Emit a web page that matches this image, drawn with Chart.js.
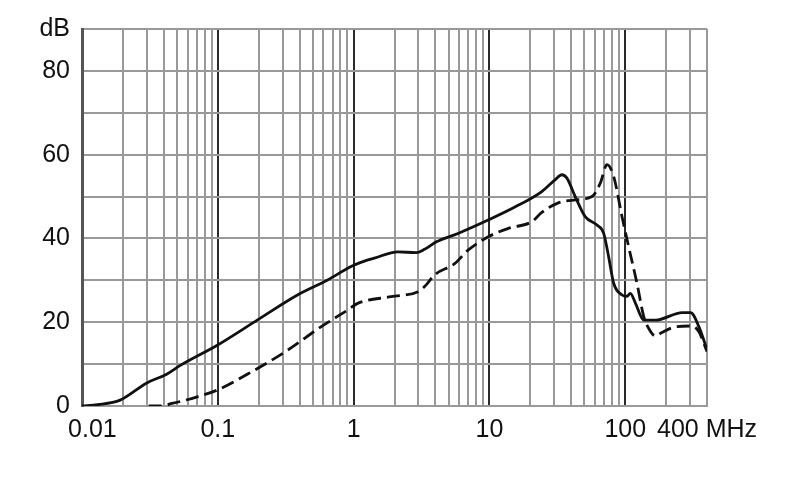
<!DOCTYPE html>
<html>
<head>
<meta charset="utf-8">
<script src="https://cdn.jsdelivr.net/npm/chart.js@4.4.1/dist/chart.umd.min.js"></script>
<style>
html,body{margin:0;padding:0;background:#fff;}
#wrap{width:790px;height:499px;}
</style>
</head>
<body>
<div id="wrap"><canvas id="c" width="790" height="499"></canvas></div>
<script>
// Frequencies in MHz and levels in dB
const solidF  = [0.01, 0.013, 0.0191, 0.030, 0.042, 0.053, 0.099, 0.195, 0.386, 0.644, 0.957, 1.13, 1.42, 2.12, 2.89, 3.33, 4.07, 5.87, 9.79, 15.4, 24.3, 30.4, 34.1, 37.2, 42.8, 50.7, 61.9, 69.4, 75.5, 82.2, 94.7, 103, 109, 119, 137, 167, 263, 303, 349, 400];
const solidDb = [0, 0.3, 1.4, 5.5, 7.6, 9.7, 14.5, 20.5, 26.5, 30.1, 33.3, 34.3, 35.3, 36.8, 36.6, 37.4, 39.2, 41.2, 44.4, 47.5, 51.2, 54, 55.2, 54.4, 50, 45.2, 43.2, 41.2, 35.6, 29.3, 26.5, 26.2, 26.9, 24.5, 20.5, 20.5, 22.3, 22.3, 18.9, 13.5];

const dashF  = [0.031, 0.037, 0.046, 0.0705, 0.099, 0.185, 0.326, 0.574, 0.904, 1.07, 1.89, 2.98, 3.33, 3.95, 5.55, 6.96, 9.8, 13.8, 20.5, 24.3, 32.2, 42.8, 56.9, 65.5, 73.4, 82.2, 94.7, 106, 122, 137, 149, 167, 181, 234, 311, 349, 400];
const dashDb = [0, 0, 0.6, 2.2, 3.8, 8.5, 13.3, 18.9, 22.9, 24.5, 26.1, 27.3, 28.5, 31.3, 34, 37.2, 40.4, 42.4, 44, 46.2, 48.5, 49.2, 50, 53.2, 57.6, 54.8, 45.2, 38, 29.3, 21.3, 18.5, 16.7, 17.3, 18.9, 19.1, 17.7, 13];

// Grid / tick positions
const xGrid = [0.01,0.02,0.03,0.04,0.05,0.06,0.07,0.08,0.09,
               0.1,0.2,0.3,0.4,0.5,0.6,0.7,0.8,0.9,
               1,2,3,4,5,6,7,8,9,
               10,20,30,40,50,60,70,80,90,
               100,200,300,400];
const xDecades = [0.1, 1, 10, 100];
const xTickValues = [0.01, 0.1, 1, 10, 100, 400];
const xTickLabels = ['   0.01', '0.1', '1', '10', '100', '400 MHz'];

const yTickValues = [0, 20, 40, 60, 80, 90];
const yTickLabels = ['0', '20', '40', '60', '80', 'dB'];

const toXY = (fs, ds) => fs.map((f, i) => ({x: f, y: ds[i]}));

const near = (a, b) => Math.abs(a - b) < 1e-9 * Math.max(1, Math.abs(b));

new Chart(document.getElementById('c'), {
  type: 'line',
  data: {
    datasets: [
      {
        data: toXY(solidF, solidDb),
        borderColor: '#111',
        borderWidth: 2.8,
        pointRadius: 0,
        fill: false,
        cubicInterpolationMode: 'monotone'
      },
      {
        data: toXY(dashF, dashDb),
        borderColor: '#111',
        borderWidth: 2.8,
        borderDash: [13, 6],
        pointRadius: 0,
        fill: false,
        cubicInterpolationMode: 'monotone'
      }
    ]
  },
  options: {
    responsive: false,
    animation: false,
    devicePixelRatio: 1,
    layout: {padding: {left: 0, right: 83, top: 29, bottom: 0}},
    plugins: {legend: {display: false}, tooltip: {enabled: false}},
    scales: {
      x: {
        type: 'logarithmic',
        min: 0.01,
        max: 400,
        afterBuildTicks: (s) => { s.ticks = xGrid.map(v => ({value: v})); },
        afterFit: (s) => { s.height = 93; },
        grid: {
          drawTicks: false,
          color: (ctx) => xDecades.some(d => near(ctx.tick.value, d)) ? '#2a2a2a' : '#999',
          lineWidth: 2
        },
        border: {color: '#999', width: 2},
        ticks: {
          autoSkip: false,
          maxRotation: 0,
          padding: 9,
          color: '#111',
          font: {family: 'Liberation Sans', size: 25},
          callback: (v) => {
            const i = xTickValues.findIndex(t => near(v, t));
            return i >= 0 ? xTickLabels[i] : '';
          }
        }
      },
      y: {
        type: 'linear',
        min: 0,
        max: 90,
        afterFit: (s) => { s.width = 82; },
        grid: {drawTicks: false, color: '#999', lineWidth: 2},
        border: {color: '#555', width: 3},
        ticks: {
          stepSize: 10,
          autoSkip: false,
          padding: 12,
          color: '#111',
          font: {family: 'Liberation Sans', size: 25},
          callback: (v) => {
            const i = yTickValues.indexOf(v);
            return i >= 0 ? yTickLabels[i] : '';
          }
        }
      }
    }
  }
});
</script>
</body>
</html>
